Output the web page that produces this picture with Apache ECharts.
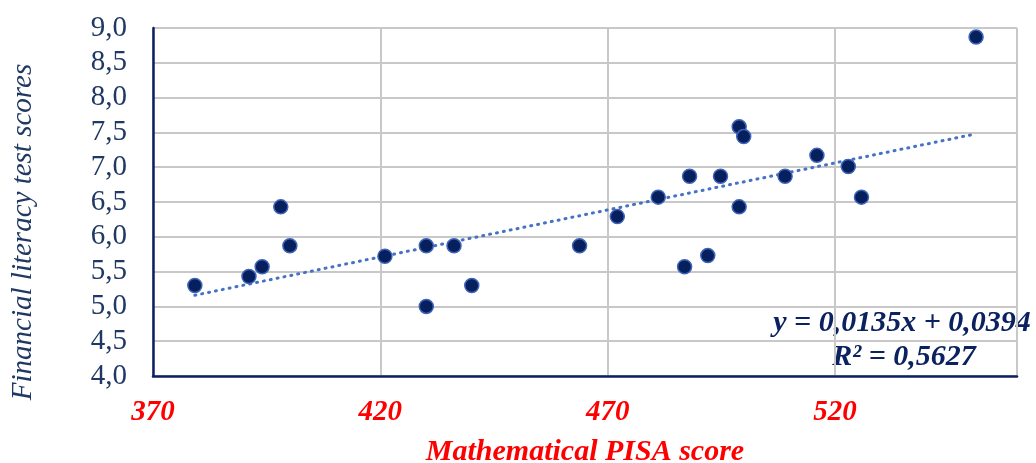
<!DOCTYPE html>
<html>
<head>
<meta charset="utf-8">
<script src="https://cdn.jsdelivr.net/npm/echarts@6/dist/echarts.min.js"></script>
<style>
  html, body { margin: 0; padding: 0; background: #fff; }
  #chart { width: 1036px; height: 463px; }
</style>
</head>
<body>
<div id="chart"></div>
<script>
// PISA maths score vs financial literacy score
var pisaScores = [379.2, 391.1, 394.0, 398.1, 400.1, 421.0, 430.1, 430.1, 436.2, 440.1,
                  463.8, 472.1, 481.1, 488.0, 486.9, 492.0, 494.8, 498.9, 499.9, 498.9,
                  509.0, 516.0, 522.9, 525.8, 551.0];
var literacyScores = [5.30, 5.43, 5.57, 6.43, 5.87, 5.72, 5.87, 5.00, 5.87, 5.30,
                      5.87, 6.29, 6.57, 6.87, 5.57, 5.73, 6.87, 7.58, 7.44, 6.43,
                      6.87, 7.17, 7.01, 6.57, 8.87];
// trendline endpoints as drawn
var trendX = [379.2, 551.0];
var trendY = [5.16, 7.48];
var equationText = 'y = 0,0135x + 0,0394';
var r2Text = 'R² = 0,5627';

var points = pisaScores.map(function (x, i) { return [x, literacyScores[i]]; });
var trend = trendX.map(function (x, i) { return [x, trendY[i]]; });

var navy = '#0b2160';
var red = '#ff0000';
var serif = '"Liberation Serif", "Times New Roman", serif';

var chart = echarts.init(document.getElementById('chart'));
chart.setOption({
  animation: false,
  grid: { left: 153, right: 19, top: 28, bottom: 87, outerBoundsMode: 'none', containLabel: false },
  xAxis: {
    type: 'value',
    min: 370,
    max: 560,
    interval: 50,
    name: 'Mathematical PISA score',
    nameLocation: 'middle',
    nameGap: 61,
    nameTextStyle: { color: red, fontFamily: serif, fontSize: 30, fontStyle: 'italic', fontWeight: 'bold' },
    axisLine: { lineStyle: { color: navy, width: 2.5 } },
    axisTick: { show: false },
    axisLabel: {
      color: red, fontFamily: serif, fontSize: 29, fontStyle: 'italic', fontWeight: 'bold',
      margin: 22, showMaxLabel: false
    },
    splitLine: { show: true, lineStyle: { color: '#c8c8c8', width: 2 } }
  },
  yAxis: {
    type: 'value',
    min: 4,
    max: 9,
    interval: 0.5,
    axisLine: { show: true, lineStyle: { color: navy, width: 2.5 } },
    axisTick: { show: false },
    axisLabel: {
      color: '#1f3864', fontFamily: serif, fontSize: 29, margin: 26,
      formatter: function (v) { return v.toFixed(1).replace('.', ','); }
    },
    splitLine: { show: true, lineStyle: { color: '#c8c8c8', width: 2 } }
  },
  graphic: [
    {
      type: 'text', x: 23, y: 232, rotation: Math.PI / 2,
      style: {
        text: 'Financial literacy test scores', fill: '#1f3864',
        font: 'italic 29px ' + serif, textAlign: 'center', textVerticalAlign: 'middle'
      }
    },
    {
      type: 'text', x: 902, y: 323,
      style: {
        text: equationText, fill: navy,
        font: 'italic bold 30px ' + serif, textAlign: 'center', textVerticalAlign: 'middle'
      }
    },
    {
      type: 'text', x: 904, y: 357,
      style: {
        text: r2Text, fill: navy,
        font: 'italic bold 30px ' + serif, textAlign: 'center', textVerticalAlign: 'middle'
      }
    }
  ],
  series: [
    {
      type: 'line',
      data: trend,
      symbol: 'none',
      lineStyle: { color: '#4472c4', width: 3, type: [1, 6], cap: 'round' },
      z: 3
    },
    {
      type: 'scatter',
      data: points,
      symbolSize: 14,
      itemStyle: { color: '#06205e', borderColor: '#3f63b8', borderWidth: 1.5, opacity: 1 },
      z: 4
    }
  ]
});
</script>
</body>
</html>
